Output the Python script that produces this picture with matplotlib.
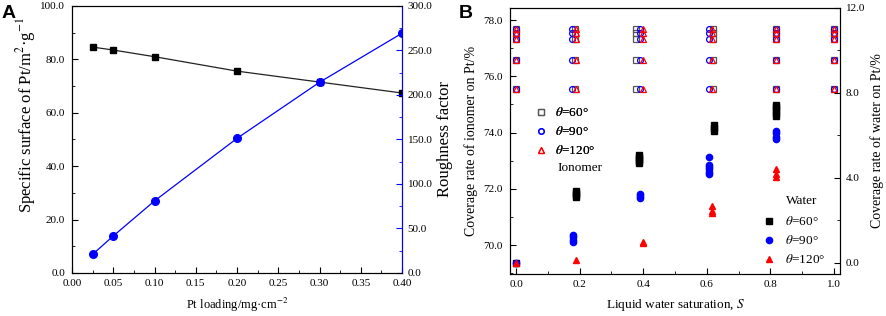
import numpy as np
import matplotlib
matplotlib.use('Agg')
from matplotlib import pyplot as plt
from matplotlib.lines import Line2D
from matplotlib.ticker import MultipleLocator, FormatStrFormatter

plt.rcParams['font.family'] = ['Liberation Serif', 'DejaVu Serif']
plt.rcParams['mathtext.fontset'] = 'stix'
plt.rcParams['xtick.direction'] = 'in'
plt.rcParams['ytick.direction'] = 'in'

# panel A data
loading = [0.025, 0.05, 0.1, 0.2, 0.3, 0.4]
specific_surface = [84.6, 83.5, 81.0, 75.6, 71.5, 67.4]
roughness = [21.0, 41.6, 81.0, 151.3, 214.3, 269.4]

# panel B data: ionomer coverage (left axis), five levels at every saturation
ion_levels = [77.70, 77.53, 77.32, 76.58, 75.55]
ion_s_60 = [0.0, 0.185, 0.378, 0.62, 0.817, 1.0]
ion_s_90 = [0.0, 0.175, 0.39, 0.607, 0.817, 1.0]
ion_s_120 = [0.0, 0.188, 0.40, 0.615, 0.817, 1.0]

# water coverage (right axis)
water_60_s = [0.0, 0.19, 0.19, 0.19, 0.19, 0.387, 0.387, 0.387, 0.387, 0.387,
              0.622, 0.622, 0.622, 0.818, 0.818, 0.818, 0.818, 0.818]
water_60 = [0.0, 3.1, 3.2, 3.3, 3.4, 4.7, 4.8, 4.9, 5.0, 5.1,
            6.2, 6.35, 6.5, 6.9, 7.05, 7.2, 7.35, 7.45]
water_90_s = [0.0, 0.179, 0.179, 0.179, 0.179, 0.39, 0.39, 0.39,
              0.607, 0.607, 0.607, 0.607, 0.607, 0.607, 0.817, 0.817, 0.817, 0.817]
water_90 = [0.0, 1.0, 1.1, 1.2, 1.3, 3.05, 3.15, 3.25,
            4.2, 4.3, 4.4, 4.5, 4.6, 5.0, 5.85, 5.95, 6.1, 6.2]
water_120_s = [0.0, 0.188, 0.40, 0.40, 0.615, 0.615, 0.615, 0.818, 0.818, 0.818]
water_120 = [0.0, 0.16, 0.93, 1.0, 2.35, 2.45, 2.7, 4.05, 4.2, 4.4]

fig = plt.figure(figsize=(8.86, 3.16), dpi=100)

# ---------------- A ----------------
ax = fig.add_axes([0.0813, 0.1361, 0.3725, 0.845])
ax.plot(loading, specific_surface, color='#222222', lw=0.9, marker='s', ms=5, mfc='black', mec='black')
ax.set_xlim(0, 0.4)
ax.set_ylim(0, 100)
ax.xaxis.set_major_locator(MultipleLocator(0.05))
ax.xaxis.set_minor_locator(MultipleLocator(0.025))
ax.yaxis.set_major_locator(MultipleLocator(20))
ax.yaxis.set_minor_locator(MultipleLocator(10))
ax.xaxis.set_major_formatter(FormatStrFormatter('%.2f'))
ax.yaxis.set_major_formatter(FormatStrFormatter('%.1f'))
ax.tick_params(which='major', length=4, labelsize=8)
ax.tick_params(axis='x', pad=4)
ax.tick_params(axis='y', pad=5)
ax.tick_params(which='minor', length=2)
ax.tick_params(top=False, which='both')
ax.set_xlabel('Pt loading/mg·cm$^{-2}$', fontsize=9, labelpad=6)
ax.set_ylabel('Specific surface of Pt/m$^{2}$·g$^{-1}$', fontsize=12)
ax.yaxis.set_label_coords(-0.103, 0.59)

ax2 = ax.twinx()
ax2.plot(loading, roughness, color='blue', lw=0.9, marker='o', ms=5.5, mfc='blue', mec='blue')
ax2.set_ylim(0, 300)
ax2.yaxis.set_major_locator(MultipleLocator(50))
ax2.yaxis.set_minor_locator(MultipleLocator(25))
ax2.yaxis.set_major_formatter(FormatStrFormatter('%.1f'))
ax2.tick_params(which='major', length=4, labelsize=8, pad=4, color='blue')
ax2.tick_params(which='minor', length=2, color='blue')
ax2.spines['right'].set_color('blue')
ax2.set_ylabel('Roughness factor', fontsize=12, labelpad=3)
fig.text(0.002, 0.985, 'A', fontsize=14, fontweight='bold', family='Liberation Sans', va='top')

# ---------------- B ----------------
bx = fig.add_axes([0.5756, 0.1329, 0.3725, 0.8418])
for s_list, m, c in [(ion_s_60, 's', '#555555'), (ion_s_90, 'o', 'blue'), (ion_s_120, '^', 'red')]:
    xs = np.repeat(s_list, len(ion_levels))
    ys = np.tile(ion_levels, len(s_list))
    bx.plot(xs, ys, ls='none', marker=m, ms=4.2, mfc='none', mec=c, mew=0.9)
bx.set_xlim(-0.019, 1.019)
bx.set_ylim(68.97, 78.43)
bx.xaxis.set_major_locator(MultipleLocator(0.2))
bx.xaxis.set_minor_locator(MultipleLocator(0.1))
bx.yaxis.set_major_locator(MultipleLocator(2))
bx.yaxis.set_minor_locator(MultipleLocator(1))
bx.xaxis.set_major_formatter(FormatStrFormatter('%.1f'))
bx.yaxis.set_major_formatter(FormatStrFormatter('%.1f'))
bx.tick_params(which='major', length=4, labelsize=8)
bx.tick_params(axis='x', pad=4)
bx.tick_params(axis='y', pad=5)
bx.tick_params(which='minor', length=2)
bx.set_xlabel('Liquid water saturation, $S$', fontsize=9.5, labelpad=6)
bx.set_ylabel('Coverage rate of ionomer on Pt/%', fontsize=10, labelpad=4)

bx2 = bx.twinx()
bx2.plot(water_60_s, water_60, ls='none', marker='s', ms=4.2, color='black')
bx2.plot(water_90_s, water_90, ls='none', marker='o', ms=4.5, color='blue')
bx2.plot(water_120_s, water_120, ls='none', marker='^', ms=5, color='red')
bx2.set_ylim(-0.52, 12.0)
bx2.yaxis.set_major_locator(MultipleLocator(4))
bx2.yaxis.set_minor_locator(MultipleLocator(2))
bx2.yaxis.set_major_formatter(FormatStrFormatter('%.1f'))
bx2.tick_params(which='major', length=4, labelsize=8, pad=4)
bx2.tick_params(which='minor', length=2)
bx2.set_ylabel('Coverage rate of water on Pt/%', fontsize=10, labelpad=4)
fig.text(0.518, 0.985, 'B', fontsize=14, fontweight='bold', family='Liberation Sans', va='top')

theta_labels = [r'$\theta$=60°', r'$\theta$=90°', r'$\theta$=120°']
h_ion = [Line2D([], [], ls='none', marker='s', ms=4, mfc='none', mec='#555555', mew=0.9),
         Line2D([], [], ls='none', marker='o', ms=4, mfc='none', mec='blue', mew=0.9),
         Line2D([], [], ls='none', marker='^', ms=4, mfc='none', mec='red', mew=0.9)]
leg1 = bx.legend(h_ion, theta_labels, loc='upper left', bbox_to_anchor=(0.055, 0.655), frameon=False,
                 fontsize=9.5, handlelength=1.0, handletextpad=0.5, labelspacing=0.45, borderpad=0)
bx.add_artist(leg1)
bx.text(0.145, 0.398, 'Ionomer', transform=bx.transAxes, fontsize=9.5, va='center')

h_wat = [Line2D([], [], ls='none', marker='s', ms=4.5, color='black'),
         Line2D([], [], ls='none', marker='o', ms=4.5, color='blue'),
         Line2D([], [], ls='none', marker='^', ms=5, color='red')]
leg2 = bx2.legend(h_wat, theta_labels, loc='upper left', bbox_to_anchor=(0.745, 0.245), frameon=False,
                  fontsize=9.5, handlelength=1.0, handletextpad=0.7, labelspacing=0.45, borderpad=0)
bx2.text(0.835, 0.275, 'Water', transform=bx2.transAxes, fontsize=9.5, va='center')

fig.savefig('out.png', dpi=100)
